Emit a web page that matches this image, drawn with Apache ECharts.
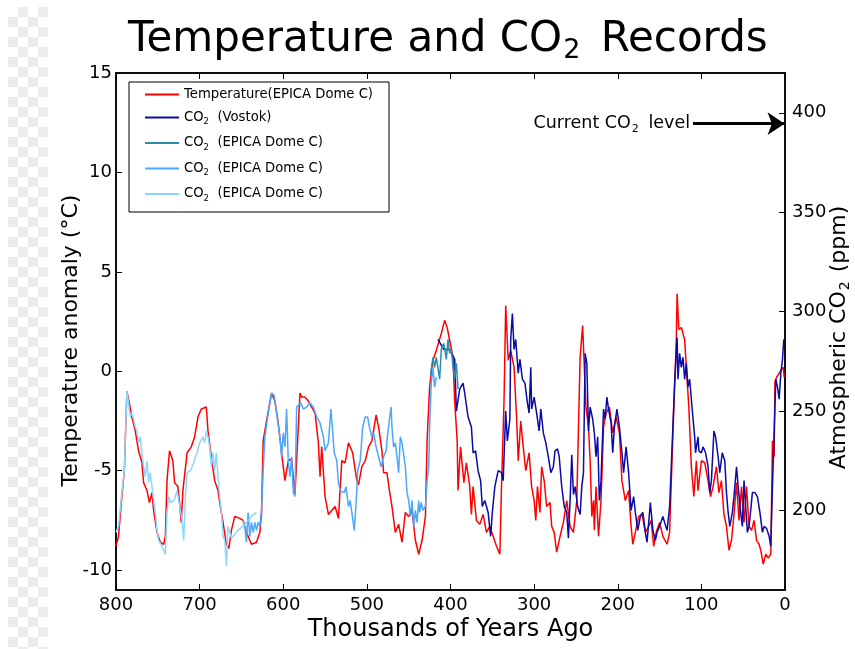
<!DOCTYPE html>
<html>
<head>
<meta charset="utf-8">
<script src="https://cdn.jsdelivr.net/npm/echarts@6/dist/echarts.min.js"></script>
<style>
html,body{margin:0;padding:0;background:#fff;}
#checker{position:absolute;left:8px;top:7px;width:40px;height:642px;
background-color:#fff;
background-image:linear-gradient(45deg,#ececec 25%,transparent 25%,transparent 75%,#ececec 75%),linear-gradient(45deg,#ececec 25%,transparent 25%,transparent 75%,#ececec 75%);
background-size:20px 20px;background-position:0 0,10px 10px;}
#main{position:absolute;left:0;top:0;width:855px;height:649px;}
</style>
</head>
<body>
<div id="checker"></div>
<div id="main"></div>
<script>
// Temperature anomaly (EPICA Dome C): [thousands of years ago, °C]
const temperature = [
[800,-8.8],[797,-8.3],[793,-6.3],[790,-5.0],[787,-1.0],[784,-1.6],[781,-2.3],[777,-3.0],[773,-4.0],[769,-4.6],
[767,-5.6],[763,-6.0],[760,-6.6],[757,-6.1],[755,-7.0],[751,-8.1],[747,-8.6],[743,-8.7],[741,-8.3],[739,-5.5],
[736,-4.0],[732,-4.5],[730,-5.6],[726,-5.8],[724,-6.6],[722,-7.6],[720,-6.0],[715,-4.1],[710,-3.8],[706,-3.3],
[702,-2.3],[698,-1.9],[692,-1.8],[690,-3.0],[686,-4.3],[682,-5.5],[678,-6.0],[676,-6.6],[672,-7.6],[668,-8.7],
[665,-8.9],[662,-8.0],[658,-7.3],[652,-7.4],[648,-7.5],[644,-8.1],[638,-8.7],[632,-8.6],[628,-8.1],[626,-7.2],
[624,-3.5],[620,-2.5],[614,-1.1],[610,-1.5],[606,-2.6],[602,-4.1],[598,-5.5],[594,-4.5],[590,-4.4],[586,-6.2],
[584,-6.3],[580,-1.1],[578,-1.3],[574,-1.3],[570,-1.5],[566,-1.8],[562,-2.1],[558,-3.6],[556,-5.3],[554,-3.8],
[550,-6.3],[546,-7.2],[542,-7.0],[538,-6.8],[534,-7.4],[530,-4.5],[526,-4.6],[522,-3.6],[520,-3.5],[517,-4.1],
[512,-5.5],[510,-5.7],[506,-4.8],[502,-4.5],[498,-3.8],[494,-3.5],[489,-2.2],[486,-2.8],[482,-4.0],[480,-5.1],
[476,-5.1],[473,-6.0],[470,-6.8],[466,-8.1],[462,-7.7],[458,-8.6],[454,-7.1],[450,-7.3],[446,-7.0],[442,-8.5],
[438,-9.2],[434,-8.5],[430,-7.3],[428,-3.5],[425,-0.8],[421,0.55],[417,1.05],[411,1.9],[407,2.56],[404,2.2],
[401,1.56],[397,0.7],[395,-1.5],[392,-3.5],[391,-6.0],[388,-3.8],[384,-5.6],[381,-4.6],[377,-5.8],[375,-7.2],
[373,-5.8],[369,-7.5],[365,-7.7],[361,-7.2],[357,-8.1],[353,-7.8],[349,-8.3],[345,-8.8],[341,-9.2],[339,-5.8],
[336,-1.5],[334,3.3],[331,0.55],[328,1.05],[324,0.2],[321,-2.3],[319,-4.5],[316,-2.5],[313,-3.8],[310,-5.0],
[306,-4.1],[303,-5.8],[300,-6.5],[298,-7.5],[296,-5.8],[293,-7.1],[291,-4.8],[288,-5.5],[285,-6.8],[281,-6.6],
[279,-7.8],[276,-8.1],[273,-9.1],[269,-8.3],[265,-7.6],[261,-6.5],[257,-7.8],[253,-8.1],[249,-6.5],[245,0.7],
[242,2.3],[240,0.2],[238,-1.8],[235,-2.8],[233,-4.5],[231,-7.3],[229,-6.5],[228,-8.0],[226,-5.8],[223,-8.3],
[220,-6.5],[217,-2.8],[214,-2.1],[210,-1.8],[206,-3.1],[202,-2.3],[198,-3.1],[195,-5.5],[191,-6.5],[187,-6.0],
[184,-7.8],[182,-8.7],[179,-8.1],[175,-7.3],[171,-7.2],[167,-8.1],[163,-7.8],[160,-7.5],[157,-8.8],[154,-8.1],
[150,-7.6],[146,-8.3],[141,-8.7],[138,-8.1],[134,-3.1],[130,1.6],[129,3.9],[127,2.1],[124,2.2],[120,1.6],
[118,0.2],[115,-1.8],[112,-4.8],[109,-6.3],[106,-4.5],[104,-6.0],[100,-4.5],[96,-4.6],[94,-4.6],[92,-5.5],
[89,-6.3],[86,-5.8],[82,-4.8],[79,-6.1],[76,-5.5],[73,-7.2],[70,-7.8],[67,-9.0],[64,-8.5],[61,-7.2],
[58,-5.6],[55,-7.5],[52,-5.8],[49,-7.6],[46,-5.8],[43,-7.8],[40,-8.0],[37,-7.5],[34,-8.5],[31,-8.7],
[29,-9.0],[26,-9.7],[23,-9.2],[20,-9.4],[17,-9.2],[15,-3.5],[13,-4.3],[12,-0.5],[10,-0.3],[7,-0.1],
[5,0.05],[2,0.2],[1,-0.3]
];
// CO2 (Vostok): [kyr ago, ppm]
const co2Vostok = [
[415,286],[408,281],[401,281],[395,276],[393,250],[389,261],[385,264],[383,259],[379,247],[375,242],
[373,229],[370,230],[367,220],[364,215],[362,202],[359,205],[355,199],[352,187],[350,199],[347,212],
[343,220],[339,219],[337,215],[334,250],[332,235],[329,246],[328,286],[326,299],[324,281],[322,286],
[319,269],[317,276],[314,266],[311,264],[308,254],[306,249],[304,272],[303,251],[300,257],[297,249],
[294,240],[292,251],[289,239],[286,234],[283,227],[280,219],[277,222],[275,230],[272,231],[270,227],
[267,212],[264,202],[261,199],[259,186],[257,205],[255,228],[253,208],[251,212],[248,202],[245,198],
[243,212],[241,219],[239,279],[237,274],[235,240],[233,252],[230,246],[228,239],[226,227],[224,237],
[222,205],[220,215],[217,251],[215,246],[213,257],[211,251],[208,244],[206,229],[204,242],[201,251],
[198,242],[195,229],[193,219],[190,232],[187,219],[184,200],[181,207],[179,199],[176,190],[173,197],
[170,199],[167,189],[165,184],[161,204],[158,190],[155,185],[153,189],[150,192],[146,197],[144,194],
[141,190],[138,202],[136,222],[132,264],[129,287],[128,266],[126,279],[124,272],[122,277],[120,266],
[118,274],[116,262],[114,266],[111,251],[108,237],[107,229],[104,237],[103,230],[100,229],[98,232],
[95,229],[92,222],[90,209],[88,215],[85,240],[83,237],[80,227],[78,219],[75,229],[72,225],
[70,209],[68,199],[66,192],[63,199],[61,207],[58,222],[56,212],[53,199],[51,192],[49,215],
[47,202],[45,189],[43,192],[41,200],[39,209],[36,209],[33,207],[30,199],[27,189],[25,192],
[22,191],[19,187],[17,182],[15,212],[13,239],[11,266],[9,262],[7,256],[5,269],[3,276],[1.5,286]
];
// CO2 (EPICA Dome C), segment 1
const co2Edc1 = [
[424,268],[421,277],[419,272],[417,277],[413,266],[411,281],[408,284],[405,276],[403,286],[401,279],
[399,281],[397,272],[395,266],[393,274],[391,261]
];
// CO2 (EPICA Dome C), segment 2
const co2Edc2 = [
[648,195],[646,192],[644,184],[642,199],[640,187],[638,194],[636,189],[634,194],[632,190],[630,194],
[628,192],[626,200],[624,220],[622,237],[618,249],[614,259],[611,258],[608,249],[604,237],[602,227],
[600,239],[598,232],[596,251],[594,225],[592,217],[590,227],[588,209],[586,207],[584,252],[582,251],
[579,254],[576,251],[572,252],[568,254],[564,252],[560,247],[556,244],[552,237],[550,230],[546,234],
[543,251],[541,240],[539,229],[536,225],[534,214],[532,210],[530,210],[527,209],[525,212],[522,202],
[520,205],[518,199],[515,190],[512,210],[511,220],[508,225],[505,242],[502,247],[499,247],[497,242],
[494,237],[492,239],[489,232],[486,227],[483,222],[480,227],[477,230],[475,239],[473,246],[471,252],
[470,242],[468,232],[466,234],[464,227],[462,219],[460,237],[458,234],[456,235],[454,222],[452,209],
[450,205],[448,197],[446,205],[444,192],[442,200],[440,194],[438,205],[437,199],[435,204],[433,200],
[430,202],[428,215],[426,222],[425,242],[423,264],[421,272],[419,262],[417,267]
];
// CO2 (EPICA Dome C), segment 3
const co2Edc3 = [
[800,189],[797,192],[793,209],[790,220],[787,260],[785,254],[783,247],[781,249],[779,246],[777,242],
[775,240],[773,234],[771,237],[769,229],[767,222],[765,217],[763,225],[761,214],[759,219],[757,220],
[755,205],[753,199],[751,190],[749,185],[747,184],[745,182],[743,180],[741,178],[739,199],[737,207],
[735,204],[733,205],[731,205],[729,207],[727,210],[725,209],[723,200],[721,195],[719,185],[717,207],
[715,219],[711,220],[707,224],[705,227],[703,229],[700,234],[696,237],[694,234],[692,240],[690,237],
[688,232],[686,222],[684,229],[682,220],[680,229],[678,217],[676,207],[674,199],[672,187],[670,185],
[668,172],[666,192],[662,186],[654,190],[646,193],[638,197],[632,199]
];
const xTicks = [0,100,200,300,400,500,600,700,800];
const tempTicks = [-10,-5,0,5,10,15];
const co2Ticks = [200,250,300,350,400];
const currentCO2 = 394.5;
const arrowFrom = 110, arrowTo = 0.5;

const seriesNames = {
  temp: '{n|Temperature(EPICA Dome C)}',
  vostok: '{n|CO}{s|2}{n|  (Vostok)}',
  edc1: '{n|CO}{s|2}{n|  (EPICA Dome C)}',
  edc2: '{n|CO}{s|2}{n|  (EPICA Dome C)}',
  edc3: '{n|CO}{s|2}{n|  (EPICA Dome C)}'
};
const FONT = 'DejaVu Sans';
const chart = echarts.init(document.getElementById('main'), null, {renderer:'canvas'});
function line(name, data, color, yIdx, z){
  return {name, type:'line', data, xAxisIndex:0, yAxisIndex:yIdx, showSymbol:false, symbol:'none',
    lineStyle:{color, width:1.5}, itemStyle:{color}, z, silent:true};
}
const vostok = line('vostok', co2Vostok, '#0a0aa8', 1, 3);
vostok.markLine = {
  silent:true, symbol:['none','arrow'], symbolSize:17,
  lineStyle:{color:'#000', width:3, type:'solid'},
  label:{show:true, position:'start', distance:3, color:'#000', fontFamily:FONT,
    formatter:'{n|Current CO}{s|2}{n| level}',
    rich:{n:{fontSize:17.5, fontFamily:FONT, color:'#000', lineHeight:22},
          s:{fontSize:11, fontFamily:FONT, color:'#000', verticalAlign:'bottom', padding:[7,4,0,1]}}},
  data:[[{coord:[arrowFrom,currentCO2]},{coord:[arrowTo,currentCO2]}]]
};
const option = {
  animation:false,
  backgroundColor:'transparent',
  textStyle:{fontFamily:FONT},
  title:{
    text:'{n|Temperature and CO}{s|2}{n| Records}',
    left:128, top:11, padding:[5,0,5,0],
    textStyle:{fontWeight:'normal', rich:{n:{fontSize:42, fontFamily:FONT, fontWeight:'normal', color:'#000', lineHeight:48},
      s:{fontSize:27, fontFamily:FONT, fontWeight:'normal', color:'#000', verticalAlign:'bottom', padding:[10,7,0,1]}}}
  },
  grid:{left:116, right:70, top:73, bottom:59, show:true, borderColor:'#000', borderWidth:1.5,
    backgroundColor:'transparent', containLabel:false, outerBoundsMode:'none'},
  legend:{
    orient:'vertical', left:129, top:82,
    padding:[6,16,9,16], itemGap:10, itemWidth:34, itemHeight:2, icon:'rect',
    borderColor:'#000', borderWidth:1, backgroundColor:'#fff',
    data:['temp','vostok','edc1','edc2','edc3'],
    formatter:(n)=>seriesNames[n],
    textStyle:{color:'#000', fontFamily:FONT, rich:{
      n:{fontSize:13.2, fontFamily:FONT, color:'#000', lineHeight:18},
      s:{fontSize:8.5, fontFamily:FONT, color:'#000', verticalAlign:'bottom', padding:[6,0,0,0]}}}
  },
  xAxis:[{
    type:'value', min:0, max:800, interval:100, inverse:true, position:'bottom',
    axisLine:{show:true, onZero:false, lineStyle:{color:'#000', width:1.5}},
    axisTick:{show:true, inside:true, length:6, lineStyle:{color:'#000', width:1}},
    axisLabel:{show:true, color:'#000', fontSize:18, fontFamily:FONT, margin:6},
    splitLine:{show:false},
    name:'Thousands of Years Ago', nameLocation:'middle', nameGap:28, nameMoveOverlap:false,
    nameTextStyle:{color:'#000', fontSize:24, fontFamily:FONT}
  },{
    type:'value', min:0, max:800, interval:100, inverse:true, position:'top',
    axisLine:{show:true, onZero:false, lineStyle:{color:'#000', width:1.5}},
    axisTick:{show:true, inside:true, length:6, lineStyle:{color:'#000', width:1}},
    axisLabel:{show:false}, splitLine:{show:false}
  }],
  yAxis:[{
    type:'value', min:-11, max:15, position:'left',
    axisLine:{show:true, onZero:false, lineStyle:{color:'#000', width:1.5}},
    axisTick:{show:true, inside:true, length:6, customValues:tempTicks, lineStyle:{color:'#000', width:1}},
    axisLabel:{show:true, customValues:tempTicks, color:'#000', fontSize:18, fontFamily:FONT, margin:4},
    splitLine:{show:false},
    name:'Temperature anomaly (°C)', nameLocation:'middle', nameGap:34, nameRotate:90, nameMoveOverlap:false,
    nameTextStyle:{color:'#000', fontSize:22, fontFamily:FONT, padding:[0,18,0,0]}
  },{
    type:'value', min:160, max:420, position:'right',
    axisLine:{show:true, onZero:false, lineStyle:{color:'#000', width:1.5}},
    axisTick:{show:true, inside:true, length:6, customValues:co2Ticks, lineStyle:{color:'#000', width:1}},
    axisLabel:{show:true, customValues:co2Ticks, color:'#000', fontSize:18, fontFamily:FONT, margin:7},
    splitLine:{show:false},
    name:'{n|Atmospheric CO}{s|2}{n| (ppm)}', nameLocation:'middle', nameGap:41, nameRotate:90, nameMoveOverlap:false,
    nameTextStyle:{color:'#000', fontFamily:FONT, padding:[0,12,0,0], rich:{
      n:{fontSize:22, fontFamily:FONT, color:'#000', lineHeight:26},
      s:{fontSize:14, fontFamily:FONT, color:'#000', verticalAlign:'bottom', padding:[8,2,0,1]}}}
  }],
  series:[
    line('temp', temperature, '#ff0000', 0, 2),
    vostok,
    line('edc1', co2Edc1, '#2b8cad', 1, 4),
    line('edc2', co2Edc2, '#4aa8ff', 1, 3),
    line('edc3', co2Edc3, '#8ad8ff', 1, 3)
  ]
};
chart.setOption(option);
</script>
</body>
</html>
